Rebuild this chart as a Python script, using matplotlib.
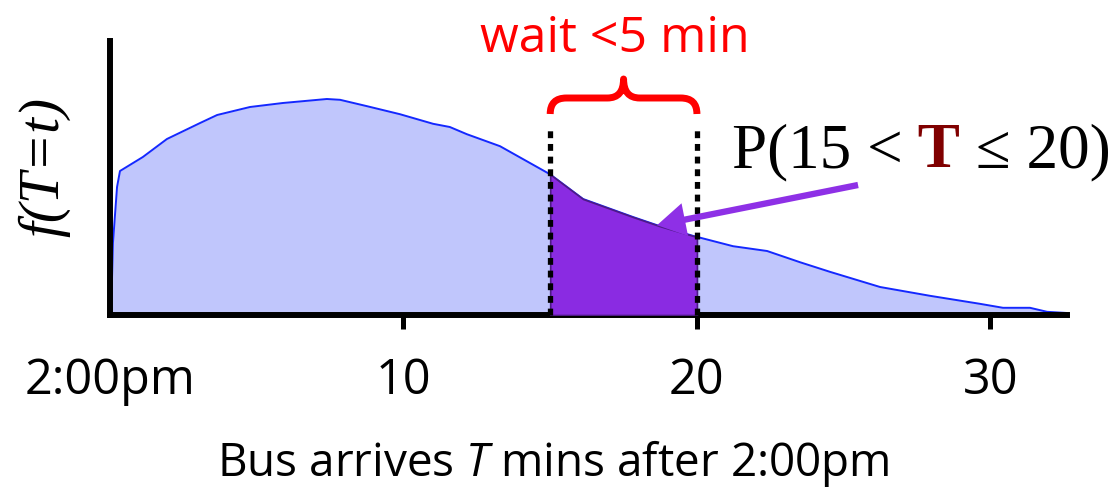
import numpy as np
import matplotlib
matplotlib.use("Agg")
import matplotlib.pyplot as plt
from matplotlib.path import Path
from matplotlib.patches import PathPatch

# Arrival-time density of the bus, T in minutes after 2:00pm
t_min = np.array([0.05, 0.10, 0.24, 0.34, 1.12, 1.94, 3.07, 3.65, 4.77, 5.89,
                  7.39, 7.84, 8.76, 9.88, 11.01, 11.58, 12.16, 13.29, 14.99,
                  16.12, 17.82, 18.74, 19.86, 21.23, 22.39, 23.51, 24.53,
                  26.24, 27.94, 29.64, 30.43, 31.35, 31.93, 32.61])
density = np.array([0.0040, 0.0180, 0.0320, 0.0360, 0.0395, 0.0440, 0.0480,
                    0.0500, 0.0520, 0.0530, 0.0540, 0.0538, 0.0522, 0.0502,
                    0.0478, 0.0470, 0.0452, 0.0422, 0.0352, 0.0290, 0.0245,
                    0.0222, 0.0198, 0.0172, 0.0160, 0.0132, 0.0108, 0.0070,
                    0.0048, 0.0028, 0.0018, 0.0018, 0.0008, 0.0005])

tick_values = [0, 10, 20, 30]
tick_labels = ["2:00pm", "10", "20", "30"]
window = (15, 20)

BLUE_FILL = "#c0c6fc"
BLUE_LINE = "#1428ff"
PURPLE = "#8a2be2"
PURPLE_EDGE = "#4e1a86"
ARROW = "#8e30e6"
RED = "#ff0000"
DARK_RED = "#800000"

plt.rcParams["font.family"] = ["Open Sans", "DejaVu Sans"]
plt.rcParams["mathtext.fontset"] = "custom"
plt.rcParams["mathtext.rm"] = "Open Sans"
plt.rcParams["mathtext.it"] = "Open Sans:italic"

W, H = 1117, 489
fig = plt.figure(figsize=(W / 100, H / 100), dpi=100)
ax = fig.add_axes([110 / W, 1 - 316 / H, 957 / W, 274 / H])
ax.set_xlim(0, 32.61)
ax.set_ylim(0, 0.0685)
ax.patch.set_visible(False)

# full density
ax.fill_between(t_min, density, 0, color=BLUE_FILL, lw=0, zorder=1)
ax.plot(t_min, density, color=BLUE_LINE, lw=1.4, zorder=2,
        solid_joinstyle="round")

# probability mass between 15 and 20 minutes
inside = (t_min > window[0]) & (t_min < window[1])
tw = np.concatenate([[window[0]], t_min[inside], [window[1]]])
fw = np.interp(tw, t_min, density)
ax.fill_between(tw, fw, 0, facecolor=PURPLE, edgecolor=PURPLE_EDGE,
                lw=1.2, zorder=3)

# dotted window boundaries
for xb in window:
    ax.plot([xb, xb], [0, 0.047], color="black", lw=3.8,
            linestyle=(0, (1.3, 1.1)), dash_capstyle="butt",
            zorder=4, clip_on=False)

# curly brace over the window
x0, x1 = window
xm = (x0 + x1) / 2
yb, yh, yp = 0.05025, 0.05425, 0.059
r = 0.55
verts = [(x0, yb), (x0, yh), (x0 + r, yh),
         (xm - r, yh), (xm, yh), (xm, yp),
         (xm, yh), (xm + r, yh),
         (x1 - r, yh), (x1, yh), (x1, yb)]
codes = [Path.MOVETO, Path.CURVE3, Path.CURVE3,
         Path.LINETO, Path.CURVE3, Path.CURVE3,
         Path.CURVE3, Path.CURVE3,
         Path.LINETO, Path.CURVE3, Path.CURVE3]
ax.add_patch(PathPatch(Path(verts, codes), facecolor="none", edgecolor=RED,
                       lw=5, capstyle="butt", joinstyle="round",
                       zorder=5, clip_on=False))

# arrow pointing at the shaded area
tip_t = 18.64
ax.annotate("", xy=(tip_t, np.interp(tip_t, t_min, density)),
            xytext=(25.49, 0.0325),
            arrowprops=dict(arrowstyle="simple,head_length=1.7,head_width=2.0,tail_width=0.38",
                            mutation_scale=12, color=ARROW, lw=0,
                            shrinkA=0, shrinkB=0),
            zorder=6, annotation_clip=False)

# axes styling
for side in ("top", "right"):
    ax.spines[side].set_visible(False)
for side in ("left", "bottom"):
    ax.spines[side].set_linewidth(4.3)
    ax.spines[side].set_capstyle("projecting")
ax.set_yticks([])
ax.set_xticks(tick_values, tick_labels)
ax.tick_params(axis="x", length=10, width=3.6, direction="out", pad=19,
               labelsize=35)
ax.xaxis.get_major_ticks()[0].tick1line.set_visible(False)

# labels
fig.text(615 / W, 1 - 52 / H, "wait <5 min", color=RED, fontsize=36,
         ha="center", va="baseline")
fig.text(553 / W, 1 - 476 / H, "Bus arrives $T$ mins after 2:00pm",
         fontsize=33, ha="center", va="baseline")
fig.text(44 / W, 1 - 167 / H, "f(T=t)", rotation=90,
         family="Liberation Serif", style="italic", fontsize=41,
         ha="center", va="center")

serif = dict(family="Liberation Serif", fontsize=45.5)
p1 = fig.text(732 / W, 1 - 167 / H, "P(15 <", va="baseline", **serif)
p2 = ax.annotate(" T", xycoords=p1, xy=(1, 0), va="bottom", ha="left",
                 color=DARK_RED, weight="bold", annotation_clip=False, **serif)
p3 = ax.annotate(" \u2264 20)", xycoords=p2, xy=(1, 0), va="bottom",
                 ha="left", annotation_clip=False, **serif)

fig.savefig("out.png", dpi=100)
